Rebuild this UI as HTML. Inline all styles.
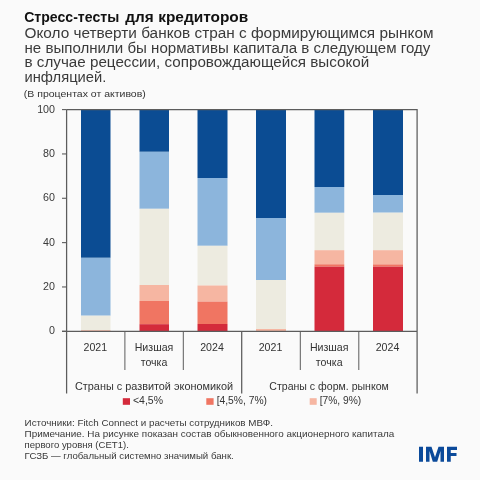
<!DOCTYPE html>
<html><head><meta charset="utf-8"><style>
html,body{margin:0;padding:0;background:#fafafa;}
body{width:480px;height:480px;overflow:hidden;}
svg{display:block;will-change:transform;font-family:"Liberation Sans",sans-serif;}
</style></head><body>
<svg width="480" height="480" viewBox="0 0 480 480">
<rect width="480" height="480" fill="#fafafa"/>
<rect x="81" y="110" width="29.50" height="147.80" fill="#0b4c93"/>
<rect x="81" y="257.8" width="29.50" height="57.90" fill="#8cb5dc"/>
<rect x="81" y="315.7" width="29.50" height="14.50" fill="#edebe0"/>
<rect x="81" y="330.2" width="29.50" height="0.80" fill="#f6b6a2"/>
<rect x="139.5" y="110" width="29.50" height="41.80" fill="#0b4c93"/>
<rect x="139.5" y="151.8" width="29.50" height="57.00" fill="#8cb5dc"/>
<rect x="139.5" y="208.8" width="29.50" height="76.20" fill="#edebe0"/>
<rect x="139.5" y="285" width="29.50" height="16.00" fill="#f6b6a2"/>
<rect x="139.5" y="301" width="29.50" height="23.20" fill="#f07562"/>
<rect x="139.5" y="324.2" width="29.50" height="6.80" fill="#d42a3b"/>
<rect x="197.5" y="110" width="30.00" height="68.00" fill="#0b4c93"/>
<rect x="197.5" y="178" width="30.00" height="67.80" fill="#8cb5dc"/>
<rect x="197.5" y="245.8" width="30.00" height="39.70" fill="#edebe0"/>
<rect x="197.5" y="285.5" width="30.00" height="16.10" fill="#f6b6a2"/>
<rect x="197.5" y="301.6" width="30.00" height="22.40" fill="#f07562"/>
<rect x="197.5" y="324" width="30.00" height="7.00" fill="#d42a3b"/>
<rect x="256" y="110" width="30.00" height="108.00" fill="#0b4c93"/>
<rect x="256" y="218" width="30.00" height="62.00" fill="#8cb5dc"/>
<rect x="256" y="280" width="30.00" height="49.00" fill="#edebe0"/>
<rect x="256" y="329" width="30.00" height="2.00" fill="#f6b6a2"/>
<rect x="314.5" y="110" width="29.75" height="77.00" fill="#0b4c93"/>
<rect x="314.5" y="187" width="29.75" height="25.80" fill="#8cb5dc"/>
<rect x="314.5" y="212.8" width="29.75" height="37.40" fill="#edebe0"/>
<rect x="314.5" y="250.2" width="29.75" height="14.10" fill="#f6b6a2"/>
<rect x="314.5" y="264.3" width="29.75" height="2.40" fill="#f07562"/>
<rect x="314.5" y="266.7" width="29.75" height="64.30" fill="#d42a3b"/>
<rect x="373" y="110" width="30.00" height="85.00" fill="#0b4c93"/>
<rect x="373" y="195" width="30.00" height="17.70" fill="#8cb5dc"/>
<rect x="373" y="212.7" width="30.00" height="37.50" fill="#edebe0"/>
<rect x="373" y="250.2" width="30.00" height="14.20" fill="#f6b6a2"/>
<rect x="373" y="264.4" width="30.00" height="2.30" fill="#f07562"/>
<rect x="373" y="266.7" width="30.00" height="64.30" fill="#d42a3b"/>
<path d="M66.6 109.6H417.1V393.5M66.6 109.6V393.5M62 331.3H417.1M241.7 331.3V393.5" stroke="#5c5c5c" stroke-width="1.25" fill="none"/>
<path d="M62 331.30H66.6" stroke="#5c5c5c" stroke-width="1.1"/>
<path d="M62 286.96H66.6" stroke="#5c5c5c" stroke-width="1.1"/>
<path d="M62 242.62H66.6" stroke="#5c5c5c" stroke-width="1.1"/>
<path d="M62 198.28H66.6" stroke="#5c5c5c" stroke-width="1.1"/>
<path d="M62 153.94H66.6" stroke="#5c5c5c" stroke-width="1.1"/>
<path d="M62 109.60H66.6" stroke="#5c5c5c" stroke-width="1.1"/>
<path d="M124.9 331.3V370" stroke="#5c5c5c" stroke-width="1"/>
<path d="M183.3 331.3V370" stroke="#5c5c5c" stroke-width="1"/>
<path d="M300.3 331.3V370" stroke="#5c5c5c" stroke-width="1"/>
<path d="M358.8 331.3V370" stroke="#5c5c5c" stroke-width="1"/>
<rect x="122.8" y="398.2" width="7.2" height="6.6" fill="#d42a3b"/>
<rect x="206.3" y="398.2" width="7.3" height="6.6" fill="#f07562"/>
<rect x="309.7" y="398.2" width="7" height="6.6" fill="#f6b6a2"/>
<path d="M419 446.75H423V461.75H419Z M426 446.75H431.5L435 457.2L438.5 446.75H444V461.75H440.5V451L437.2 461.75H432.8L429.5 451V461.75H426Z M447 446.75H457V450H450.75V453H456.5V456H450.75V461.75H447Z" fill="#0b4a9a"/>
<text x="24.2" y="21.8" font-size="14.3" font-weight="bold" fill="#111" text-anchor="start" textLength="95.0" lengthAdjust="spacingAndGlyphs">Стресс-тесты</text>
<text x="125.2" y="21.8" font-size="14.3" font-weight="bold" fill="#111" text-anchor="start" textLength="28.4" lengthAdjust="spacingAndGlyphs">для</text>
<text x="158.2" y="21.8" font-size="14.3" font-weight="bold" fill="#111" text-anchor="start" textLength="90.1" lengthAdjust="spacingAndGlyphs">кредиторов</text>
<text x="24.5" y="37.7" font-size="13.8" font-weight="normal" fill="#3a3a3a" text-anchor="start" textLength="409.0" lengthAdjust="spacingAndGlyphs">Около четверти банков стран с формирующимся рынком</text>
<text x="24.5" y="52.6" font-size="13.8" font-weight="normal" fill="#3a3a3a" text-anchor="start" textLength="405.8" lengthAdjust="spacingAndGlyphs">не выполнили бы нормативы капитала в следующем году</text>
<text x="24.5" y="67.3" font-size="13.8" font-weight="normal" fill="#3a3a3a" text-anchor="start" textLength="344.8" lengthAdjust="spacingAndGlyphs">в случае рецессии, сопровождающейся высокой</text>
<text x="24.5" y="82.1" font-size="13.8" font-weight="normal" fill="#3a3a3a" text-anchor="start" textLength="81.8" lengthAdjust="spacingAndGlyphs">инфляцией.</text>
<text x="23.8" y="97.2" font-size="9.1" font-weight="normal" fill="#333" text-anchor="start" textLength="122" lengthAdjust="spacingAndGlyphs">(В процентах от активов)</text>
<text x="55" y="334.40000000000003" font-size="10.7" font-weight="normal" fill="#3a3a3a" text-anchor="end">0</text>
<text x="55" y="290.06000000000006" font-size="10.7" font-weight="normal" fill="#3a3a3a" text-anchor="end">20</text>
<text x="55" y="245.72" font-size="10.7" font-weight="normal" fill="#3a3a3a" text-anchor="end">40</text>
<text x="55" y="201.38" font-size="10.7" font-weight="normal" fill="#3a3a3a" text-anchor="end">60</text>
<text x="55" y="157.04" font-size="10.7" font-weight="normal" fill="#3a3a3a" text-anchor="end">80</text>
<text x="55" y="112.70000000000002" font-size="10.7" font-weight="normal" fill="#3a3a3a" text-anchor="end">100</text>
<text x="95.3" y="351.2" font-size="10.6" font-weight="normal" fill="#333" text-anchor="middle">2021</text>
<text x="154.0" y="351.2" font-size="10.6" font-weight="normal" fill="#333" text-anchor="middle">Низшая</text>
<text x="154.0" y="366.3" font-size="10.6" font-weight="normal" fill="#333" text-anchor="middle">точка</text>
<text x="212.0" y="351.2" font-size="10.6" font-weight="normal" fill="#333" text-anchor="middle">2024</text>
<text x="270.5" y="351.2" font-size="10.6" font-weight="normal" fill="#333" text-anchor="middle">2021</text>
<text x="329.2" y="351.2" font-size="10.6" font-weight="normal" fill="#333" text-anchor="middle">Низшая</text>
<text x="329.2" y="366.3" font-size="10.6" font-weight="normal" fill="#333" text-anchor="middle">точка</text>
<text x="387.5" y="351.2" font-size="10.6" font-weight="normal" fill="#333" text-anchor="middle">2024</text>
<text x="75" y="390" font-size="10.6" font-weight="normal" fill="#333" text-anchor="start" textLength="158" lengthAdjust="spacingAndGlyphs">Страны с развитой экономикой</text>
<text x="269.3" y="390" font-size="10.6" font-weight="normal" fill="#333" text-anchor="start" textLength="119.5" lengthAdjust="spacingAndGlyphs">Страны с форм. рынком</text>
<text x="133" y="404.3" font-size="10.4" font-weight="normal" fill="#333" text-anchor="start" textLength="30" lengthAdjust="spacingAndGlyphs">&lt;4,5%</text>
<text x="216.7" y="404.3" font-size="10.4" font-weight="normal" fill="#333" text-anchor="start" textLength="50.3" lengthAdjust="spacingAndGlyphs">[4,5%, 7%)</text>
<text x="319.7" y="404.3" font-size="10.4" font-weight="normal" fill="#333" text-anchor="start" textLength="41.6" lengthAdjust="spacingAndGlyphs">[7%, 9%)</text>
<text x="24.6" y="426.0" font-size="9.2" font-weight="normal" fill="#383838" text-anchor="start" textLength="248.3" lengthAdjust="spacingAndGlyphs">Источники: Fitch Connect и расчеты сотрудников МВФ.</text>
<text x="24.6" y="436.9" font-size="9.2" font-weight="normal" fill="#383838" text-anchor="start" textLength="369.6" lengthAdjust="spacingAndGlyphs">Примечание. На рисунке показан состав обыкновенного акционерного капитала</text>
<text x="24.6" y="447.9" font-size="9.2" font-weight="normal" fill="#383838" text-anchor="start" textLength="104.2" lengthAdjust="spacingAndGlyphs">первого уровня (CET1).</text>
<text x="24.6" y="458.9" font-size="9.2" font-weight="normal" fill="#383838" text-anchor="start" textLength="209.2" lengthAdjust="spacingAndGlyphs">ГСЗБ — глобальный системно значимый банк.</text>
</svg>
</body></html>
